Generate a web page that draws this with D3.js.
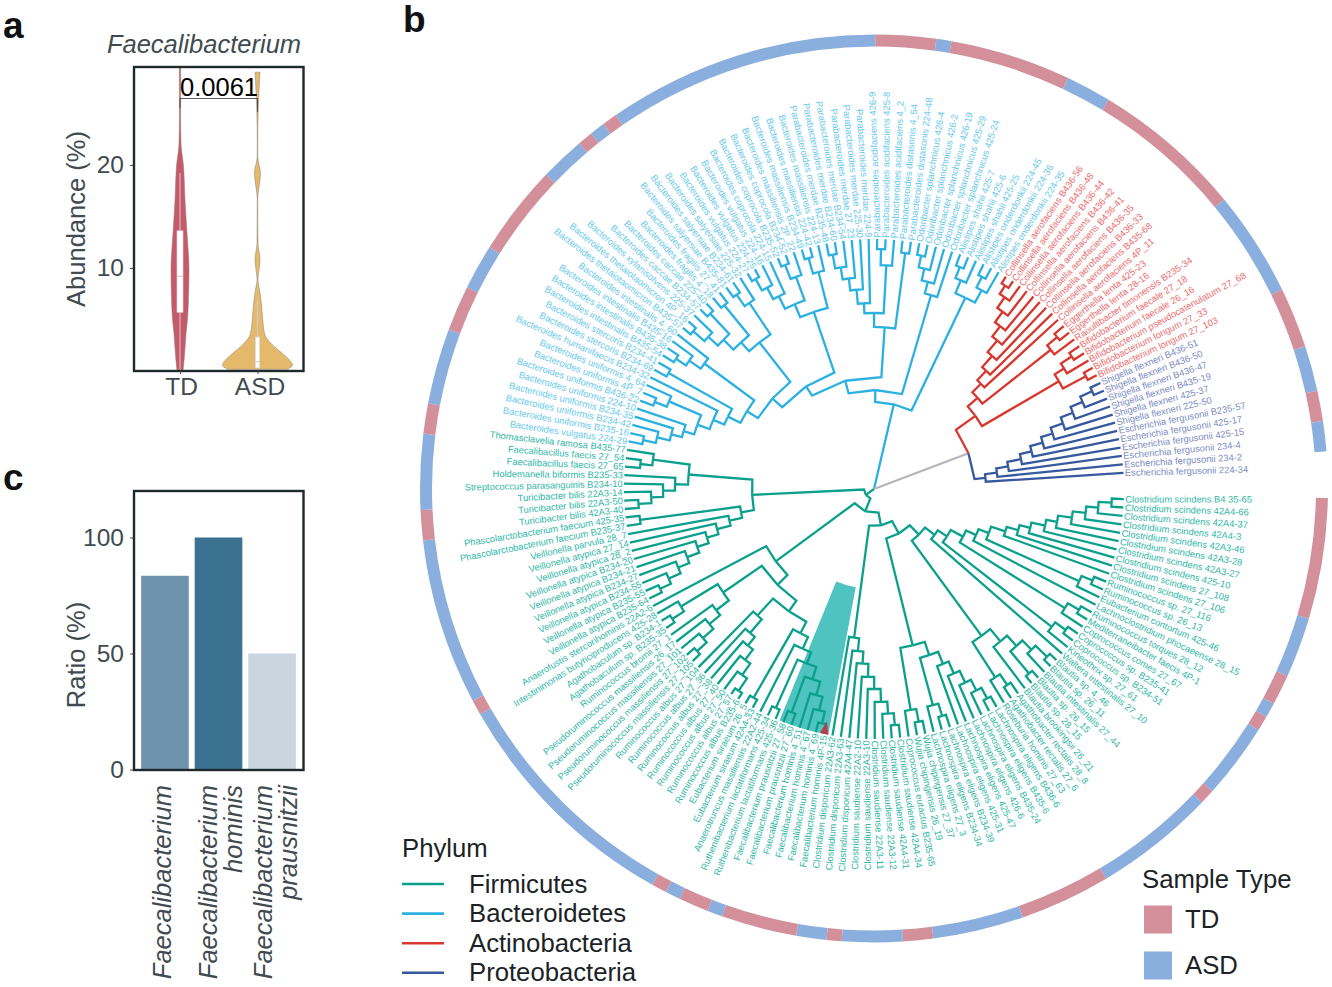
<!DOCTYPE html>
<html><head><meta charset="utf-8">
<script src="https://cdn.jsdelivr.net/npm/d3@7"></script>
<style>html,body{margin:0;background:#fff}svg{display:block}text{font-family:"Liberation Sans",Arial,sans-serif}</style>
</head><body><svg id="c" width="1332" height="987"></svg>
<script>
const L = 0;
// ---------- tree data: [branching depth, child, child...], L = tip (clockwise order) ----------
const firmicutesTree = [10,
 [24,
  [37,
   [51,
    [64,
     [76,
      [87,
       [101,
        [112,
         [123,
          [138,[150,[161,[175,[186,[200,[213,[225,[238,L,L],L],L],L],L],L],L],L],L],
          [225,[237,L,L],L]],
         L],
        [225,[238,L,L],L]],
       [225,[238,L,L],L]],
      L],
     [182,[198,[212,[225,[241,L,L],L],[241,L,L]],L],[224,[237,L,L],L]]],
    [161,[175,[188,[201,[214,[226,[238,L,L],L],L],L],L],[224,[237,L,L],L]],[224,[237,L,L],L]]],
   [150,[163,[175,[188,[200,[213,[225,[237,L,L],L],L],L],L],L],L],L]],
  [122,
   [136,
    [149,
     [162,
      [175,[187,[200,[214,[228,[240,L,L],L],L],[238,L,L]],[240,L,L]],L],
      [241,L,L]],
     [172,[190,[201,[214,[228,[243,L,L],L],L],L],L],L]],
    [183,[199,[213,[227,[240,L,L],L],L],L],[226,[240,L,L],L]]],
   L]],
 [122,
  [135,[148,[162,[174,[186,[199,[211,[224,[236,L,L],L],L],L],L],L],L],L],[236,L,L]],
  [186,[199,[211,[223,[236,L,L],L],L],L],[223,[235,L,L],L]]]];
const bacteroidetesTree = [87,
 [99,
  [112,
   [123,
    [136,
     [149,
      [163,[175,[188,[199,[210,[223,[236,L,L],L],L],L],[223,[236,L,L],L]],L],[236,L,L]],
      [211,[225,[237,L,L],L],L]],
     [186,[198,[212,[225,[240,L,L],L],[240,L,L]],[237,L,L]],[224,[238,L,L],L]]],
    [187,[201,[215,[228,[241,L,L],L],L],[226,[241,L,L],L]],[224,[240,L,L],L]]],
   [162,[176,[186,[200,[212,[224,[238,L,L],L],L],L],L],[224,[240,L,L],L]],[238,L,L]]],
  [202,[214,[226,[238,L,L],L],L],L]],
 [212,[226,[238,L,L],L],[226,[238,L,L],L]]];
const actinobacteriaTree = [125,
 [138,[150,[163,[178,[193,[206,[219,[232,[242,L,L],L],L],L],L],L],L],L],[225,[238,L,L],L]],
 [214,[225,[238,L,L],L],[240,L,L]]];
const proteobacteriaTree = [112,[124,[136,[150,[162,[175,[187,[200,[213,[226,[239,L,L],L],L],L],L],L],L],L],L],L],L];
const actProtDepth = 101;

// ---------- tip names (clockwise) ----------
const firmicutesTips = ["Clostridium scindens B4 35-65","Clostridium scindens 42A4-66","Clostridium scindens 42A4-37","Clostridium scindens 42A4-3","Clostridium scindens 42A3-46","Clostridium scindens 42A3-28","Clostridium scindens 42A3-27","Clostridium scindens 425-10","Clostridium scindens 27_108","Clostridium scindens 27_106","Ruminococcus sp. 27_116","Ruminococcus sp. 26_13","Eubacterium contortum 425-46","Lachnoclostridium phocaeense 28_15","Ruminococcus torques 28_12","Mediterraneibacter faecis 4P-1","Coprococcus comes 27_67","Coprococcus sp. B235-41","Coprococcus sp. B234-51","Kineothrix sp. 27_61","Waltera intestinalis 27_10",
"Blautia sp. 4_46","Blautia sp. 26_11","Blautia intestinalis 27_44","Blautia sp. 26_15","Blautia sp. 28_15","Blautia brookingsii 26_21","Agathobacter rectalis 28_8","Agathobacter rectalis 27_6","Roseburia hominis 27_63",
"Lachnospira eligens B436-6","Lachnospira eligens B435-6","Lachnospira eligens B435-24","Lachnospira eligens 426-6","Lachnospira eligens 425-47","Lachnospira eligens 425-31","Lachnospira eligens B234-39","Lachnospira eligens B234-34","Lachnospira eligens 27_3","Wujia chipingensis 27_37","Wujia chipingensis 26_19","Coprococcus eutactus B235-65",
"Clostridium saudiense 42A4-34","Clostridium saudiense 42A4-31","Clostridium saudiense 22A3-12","Clostridium saudiense 22A3-11","Clostridium saudiense 22A3-10","Clostridium saudiense 22A2-10","Clostridium disporicum 42A4-47","Clostridium disporicum 22A3-63","Clostridium disporicum 22A3-62",
"Faecalibacterium hominis 4P-15","Faecalibacterium hominis 4_69","Faecalibacterium hominis 4_67","Faecalibacterium hominis 4_51","Faecalibacterium prausnitzii 27_60","Faecalibacterium prausnitzii 27_58","Ruthenibacterium lactatiformans 425-36","Ruthenibacterium lactatiformans 425-34","Anaerotruncus massiliensis 22A2-44","Eubacterium siraeum 42A4-33","Eubacterium siraeum 26_5",
"Ruminococcus albus B235-6","Ruminococcus albus 27_57","Ruminococcus albus 27_50","Ruminococcus albus 27_40","Ruminococcus albus 27_38","Ruminococcus albus 27_36","Ruminococcus albus 27_104","Pseudoruminococcus massiliensis 27_105","Pseudoruminococcus massiliensis 27_102","Pseudoruminococcus massiliensis 27_101","Pseudoruminococcus massiliensis 26_17","Ruminococcus bromii 27_1","Agathobaculum sp. B235-35","Agathobaculum sp. B234-1","Intestinimonas butyriciproducens 425-28","Anaerofustis stercorihominis 22A2-6",
"Veillonella atypica B235-64","Veillonella atypica B235-55","Veillonella atypica B234-55","Veillonella atypica B234-27","Veillonella atypica B234-21","Veillonella atypica B234-20","Veillonella atypica 28_2","Veillonella atypica 27_14","Veillonella parvula 28_7","Phascolarctobacterium faecium B235-37","Phascolarctobacterium faecium 425-35","Turicibacter bilis 42A3-40","Turicibacter bilis 22A3-50","Turicibacter bilis 22A3-14","Streptococcus parasanguinis B234-10","Holdemanella biformis B235-33","Faecalibacillus faecis 27_65","Faecalibacillus faecis 27_54","Thomasclavelia ramosa B435-77"];
const bacteroidetesTips = ["Bacteroides vulgatus 224-29","Bacteroides uniformis B235-16","Bacteroides uniformis B234-42","Bacteroides uniformis B234-35","Bacteroides uniformis 224-10","Bacteroides uniformis B436-22","Bacteroides uniformis 4P_7","Bacteroides uniformis 4_64","Bacteroides humanifaecis B234-32","Bacteroides stercoris B234-69","Bacteroides stercoris B234-41","Bacteroides intestinalis B435-54","Bacteroides intestinalis B435-38","Bacteroides intestinalis B435-16","Bacteroides intestinalis 4_60",
"Bacteroides thetaiotaomicron B435-57","Bacteroides thetaiotaomicron 4P_16","Bacteroides xylanisolvens 225-37","Bacteroides caccae B234-57","Bacteroides caccae 225-40","Bacteroides fragilis 4_18","Bacteroides fragilis 27_41","Bacteroides salyersiae B435-81","Bacteroides salyersiae B234-61","Bacteroides salyersiae 225-32",
"Bacteroides vulgatus 224-27","Bacteroides vulgatus 224-25","Bacteroides vulgatus 224-16","Bacteroides coprocola 224-15","Bacteroides coprocola B235-52","Bacteroides coprocola B234-52","Bacteroides massiliensis 2P_22","Bacteroides massiliensis B234-49","Bacteroides massiliensis 224-42","Bacteroides massiliensis 224-13",
"Parabacteroides merdae B235-48","Parabacteroides merdae B234-60","Parabacteroides merdae B234-54","Parabacteroides merdae 27_23","Parabacteroides merdae 225-30","Parabacteroides merdae 224-9","Parabacteroides acidifaciens 426-9","Parabacteroides acidifaciens 425-8","Parabacteroides acidifaciens 4_2","Parabacteroides distasonis 4_54","Parabacteroides distasonis 224-48",
"Odoribacter splanchnicus 426-4","Odoribacter splanchnicus 426-2","Odoribacter splanchnicus 426-19","Odoribacter splanchnicus 425-29","Odoribacter splanchnicus 425-24","Alistipes shahii 425-7","Alistipes shahii 425-6","Alistipes shahii 425-25","Alistipes onderdonkii 224-45","Alistipes onderdonkii 224-36","Alistipes onderdonkii 224-35"];
const actinobacteriaTips = ["Collinsella aerofaciens B436-56","Collinsella aerofaciens B436-48","Collinsella aerofaciens B436-44","Collinsella aerofaciens B436-42","Collinsella aerofaciens B436-41","Collinsella aerofaciens B436-35","Collinsella aerofaciens B436-33","Collinsella aerofaciens B435-68","Collinsella aerofaciens 4P_11","Eggerthella lenta 425-23","Eggerthella lenta 28-16","Raoultibacter timonensis B235-34","Bifidobacterium faecale 27_18","Bifidobacterium faecale 26_16","Bifidobacterium pseudocatenulatum 27_68","Bifidobacterium longum 27_33","Bifidobacterium longum 27_103"];
const proteobacteriaTips = ["Shigella flexneri B436-51","Shigella flexneri B436-50","Shigella flexneri B436-47","Shigella flexneri B435-19","Shigella flexneri 425-37","Shigella flexneri 225-50","Escherichia fergusonii B235-57","Escherichia fergusonii 425-17","Escherichia fergusonii 425-15","Escherichia fergusonii 234-4","Escherichia fergusonii 234-2","Escherichia fergusonii 224-34"];
const highlightFirst = "Faecalibacterium hominis 4P-15", highlightLast = "Faecalibacterium prausnitzii 27_58", markedTip = "Faecalibacterium hominis 4P-15";
// sample type along the ring: alternating runs of tips, starting with TD
const sampleRuns = [8,4,2,1,1,5,1,8,6,6,2,4,1,2,5,1,2,1,1,16,1,11,2,5,2,5,3,3,6,3,1,1,1,18,4,1,8,3,10,7,4,3,2,2];

const phyla = ["Firmicutes","Bacteroidetes","Actinobacteria","Proteobacteria"];
const phylumLine = {Firmicutes:"#0ba08c",Bacteroidetes:"#2bb0e2",Actinobacteria:"#d8372e",Proteobacteria:"#35589f"};
const phylumText = {Firmicutes:"#2fb7a6",Bacteroidetes:"#66c9ec",Actinobacteria:"#ee6b6e",Proteobacteria:"#7c8cc2"};
const sampleTypes = ["TD","ASD"], sampleColor = {TD:"#d3909b",ASD:"#8aaedd"};

// panel a
const tdValue = [0,1.5,3.6,5,7,10,12,13.4,16.6,19.9,22.1,24.7,29.5], tdWidth = [3,4.5,6,7.5,8.5,9,8,7,5,3.5,1,.6,.7];
const asdValue = [.16,.58,1.07,1.71,2.36,3.65,5.27,6.9,7.9,8.83,10.8,12.4,16.6,19.2,20.8,22.1,28.2,29], asdWidth = [30,35,32,25,17,7,5,3.5,2,.5,2.5,.5,.2,3,.3,.2,2,2.5];
const boxStats = {TD:{lo:0,q1:5.7,med:9.2,q3:13.6,hi:19.2},ASD:{lo:.3,q1:.3,med:.9,q3:3.3,hi:6.8}};
// panel c
const ratioNames = ["Faecalibacterium","Faecalibacterium hominis","Faecalibacterium prausnitzii"], ratioValues = [83.5,100,50], ratioColors = ["#6e93ad","#3b7191","#c9d6df"];

const svg = d3.select("#c");
const ink = "#3f4b50";

// ===================== tree =====================
const cx = 874, cy = 489;
const allTips = [...firmicutesTips,...bacteroidetesTips,...actinobacteriaTips,...proteobacteriaTips];
const n = allTips.length;
const toRad = Math.PI/180;
const angle = d3.scaleLinear().domain([0,n]).range([1.33*toRad,357.27*toRad]);
const ringAngle = d3.scaleLinear().domain([0,n]).range([1.2*toRad,355.3*toRad]);
const radius = d3.scaleLinear().domain([0,250]).range([0,250]);
const pt = (r,a)=>[cx+radius(r)*Math.cos(a), cy+radius(r)*Math.sin(a)];

const treeData = [0, firmicutesTree, bacteroidetesTree, [actProtDepth, actinobacteriaTree, proteobacteriaTree]];
const root = d3.hierarchy(treeData, d=>Array.isArray(d)?d.slice(1):null);
let tipI = 0;
root.eachAfter(d=>{
  if(!d.children){ d.i=tipI; d.name=allTips[tipI]; d.a=angle(tipI+.5); d.r=250; tipI++; }
  else { d.a=d3.mean([d.children[0].a,d.children[d.children.length-1].a]); d.r=d.data[0]; }
});
root.children.forEach((c,i)=>{
  if(i<2) c.each(x=>x.ph=phyla[i]);
  else { c.ph=null; c.children.forEach((g,j)=>g.each(x=>x.ph=phyla[2+j])); }
});
if(tipI!==n) throw new Error("tip mismatch "+tipI+" vs "+n);

// ring
const g0 = svg.append("g").attr("transform",`translate(${cx},${cy-.5})`);
const ringArc = d3.arc().innerRadius(442).outerRadius(454);
let at=0;
sampleRuns.forEach((c,i)=>{
  const t = sampleTypes[i%2];
  g0.append("path").attr("d",ringArc({startAngle:ringAngle(at)+Math.PI/2,endAngle:ringAngle(at+c)+Math.PI/2})).attr("fill",sampleColor[t]);
  at+=c;
});
// highlight wedge
const hi0 = allTips.indexOf(highlightFirst), hi1 = allTips.indexOf(highlightLast);
const gT = svg.append("g").attr("transform",`translate(${cx},${cy})`);
gT.append("path").attr("d",d3.arc().innerRadius(radius(100)).outerRadius(radius(250))({startAngle:angle(hi0)+Math.PI/2,endAngle:angle(hi1+1)+Math.PI/2})).attr("fill","#4fc3c0");

// branches
const links = svg.append("g").attr("fill","none").attr("stroke-width",2.3).attr("stroke-linejoin","miter");
root.descendants().forEach(d=>{
  if(!d.parent) return;
  const p=d.parent, pr=p.r;
  const line = d3.line()([pt(d.r,d.a),pt(pr,d.a),pt(pr,p.a)]);
  links.append("path").attr("d",line).attr("stroke",d.ph?phylumLine[d.ph]:"#b5b5bb");
});
// marked tip
const mi = allTips.indexOf(markedTip);
svg.append("path").attr("d",d3.line()([pt(250,angle(mi)),pt(237,angle(mi+.5)),pt(250,angle(mi+1))])+"Z").attr("fill","#b0404a");
// tip labels
const labels = svg.append("g").attr("font-size",9.35);
const labelTilt = d3.scaleLinear().domain([0,270,300,360]).range([-2.2,-2.8,2.5,2]);
root.leaves().forEach(d=>{
  const [x,y]=pt(251.5,d.a), raw=d.a/toRad, deg=raw+labelTilt(raw), right=Math.cos(d.a)>=0;
  labels.append("text").attr("transform",`translate(${x},${y}) rotate(${right?deg:deg+180})`)
    .attr("text-anchor",right?"start":"end").attr("dy","0.35em").attr("fill",phylumText[d.ph]).text(d.name);
});

// ===================== panel a =====================
const ya = d3.scaleLinear().domain([0,29.5]).range([371,67]);
const xa = d3.scalePoint().domain(["TD","ASD"]).range([180,257.5]);
const halfW = d3.scaleLinear().domain([0,35]).range([0,35]);
const violin = (vals,w,c,col)=>{
  const area=d3.area().curve(d3.curveMonotoneY).y((_,i)=>ya(vals[i])).x0((_,i)=>xa(c)-halfW(w[i])).x1((_,i)=>xa(c)+halfW(w[i]));
  svg.append("path").attr("d",area(vals)).attr("fill",col).attr("stroke","#8a7f70").attr("stroke-width",.5);
};
violin(tdValue,tdWidth,"TD","#c65a6b");
violin(asdValue,asdWidth,"ASD","#e5b96c");
Object.entries(boxStats).forEach(([k,s])=>{
  const x=xa(k),w=k==="TD"?3:2.2;
  svg.append("line").attr("x1",x).attr("x2",x).attr("y1",ya(s.hi)).attr("y2",ya(s.lo)).attr("stroke","#cfcfd2").attr("stroke-width",1);
  svg.append("rect").attr("x",x-w).attr("width",2*w).attr("y",ya(s.q3)).attr("height",ya(s.q1)-ya(s.q3)).attr("fill","#fff").attr("stroke","#d6d6d8").attr("stroke-width",.7);
  svg.append("line").attr("x1",x-w).attr("x2",x+w).attr("y1",ya(s.med)).attr("y2",ya(s.med)).attr("stroke","#c9c9cc").attr("stroke-width",1);
});
// bracket
svg.append("path").attr("d",`M${xa("TD")},108V98.5H${xa("ASD")}V112`).attr("fill","none").attr("stroke","#333").attr("stroke-width",.8);
svg.append("text").attr("x",219).attr("y",96).attr("text-anchor","middle").attr("font-size",25.5).attr("fill","#000").text("0.0061");
svg.append("rect").attr("x",134).attr("y",67).attr("width",169.5).attr("height",304).attr("fill","none").attr("stroke","#1e292c").attr("stroke-width",2.4);
const axA=svg.append("g").attr("transform","translate(133,0)").call(d3.axisLeft(ya).tickValues([10,20]).tickSize(3).tickPadding(6));
axA.select(".domain").remove();
axA.selectAll("line").attr("stroke",ink);
axA.selectAll("text").attr("font-size",24.5).attr("fill",ink).attr("font-family","Liberation Sans");
const axAb=svg.append("g").attr("transform","translate(0,371)").call(d3.axisBottom(xa).tickSize(3).tickPadding(4));
axAb.select(".domain").remove();
axAb.selectAll("line").attr("stroke",ink);
axAb.selectAll("text").attr("font-size",24.5).attr("fill",ink).attr("font-family","Liberation Sans").attr("dx",(d,i)=>i?2:1);
svg.append("text").attr("x",204).attr("y",53).attr("text-anchor","middle").attr("font-size",25.5).attr("font-style","italic").attr("fill",ink).text("Faecalibacterium");
svg.append("text").attr("transform","translate(85,219) rotate(-90)").attr("text-anchor","middle").attr("font-size",25.5).attr("fill",ink).text("Abundance (%)");

// ===================== panel c =====================
const yc = d3.scaleLinear().domain([0,100]).range([769.5,537.5]);
const xc = d3.scaleBand().domain(ratioNames).range([139,298]).paddingInner(.11).paddingOuter(.04);
svg.selectAll("rect.bar").data(ratioNames).join("rect").attr("class","bar").attr("x",d=>xc(d)).attr("width",xc.bandwidth())
  .attr("y",(d,i)=>yc(ratioValues[i])).attr("height",(d,i)=>yc(0)-yc(ratioValues[i])).attr("fill",(d,i)=>ratioColors[i]);
svg.append("rect").attr("x",134).attr("y",491).attr("width",169.5).attr("height",279).attr("fill","none").attr("stroke","#1e292c").attr("stroke-width",2.4);
const axC=svg.append("g").attr("transform","translate(133,0)").call(d3.axisLeft(yc).tickValues([0,50,100]).tickSize(3).tickPadding(6));
axC.select(".domain").remove();
axC.selectAll("line").attr("stroke",ink);
axC.selectAll("text").attr("font-size",24.5).attr("fill",ink).attr("font-family","Liberation Sans");
svg.append("text").attr("transform","translate(85,655) rotate(-90)").attr("text-anchor","middle").attr("font-size",25.5).attr("fill",ink).text("Ratio (%)");
const ratioLabelOffsets = [[6.5],[-2,23],[0,25]];
ratioNames.forEach((nm,k)=>{
  const parts=nm.split(" "), mid=xc(nm)+xc.bandwidth()/2;
  parts.forEach((p,i)=>{
    svg.append("text").attr("transform",`translate(${mid+ratioLabelOffsets[k][i]},785) rotate(-90)`).attr("text-anchor","end")
      .attr("font-size",25.5).attr("font-style","italic").attr("fill",ink).text(p);
  });
});

// ===================== panel letters =====================
[["a",3,38],["b",403,32],["c",3,490]].forEach(([t,x,y])=>svg.append("text").attr("x",x).attr("y",y).attr("font-size",37).attr("font-weight","bold").attr("fill","#111").text(t));

// ===================== legends =====================
const dark="#1c2326";
svg.append("text").attr("x",402).attr("y",857).attr("font-size",25.7).attr("fill",dark).text("Phylum");
phyla.forEach((p,i)=>{
  const y=884+i*29.6;
  svg.append("line").attr("x1",402).attr("x2",444).attr("y1",y).attr("y2",y).attr("stroke",phylumLine[p]).attr("stroke-width",2.6);
  svg.append("text").attr("x",469).attr("y",y+8.5).attr("font-size",25.7).attr("fill",dark).text(p);
});
svg.append("text").attr("x",1142).attr("y",888).attr("font-size",25.7).attr("fill",dark).text("Sample Type");
sampleTypes.forEach((t,i)=>{
  const y=905.5+i*46;
  svg.append("rect").attr("x",1144).attr("y",y).attr("width",28).attr("height",28).attr("fill",sampleColor[t]);
  svg.append("text").attr("x",1185).attr("y",y+22.5).attr("font-size",25.7).attr("fill",dark).text(t);
});
</script></body></html>
